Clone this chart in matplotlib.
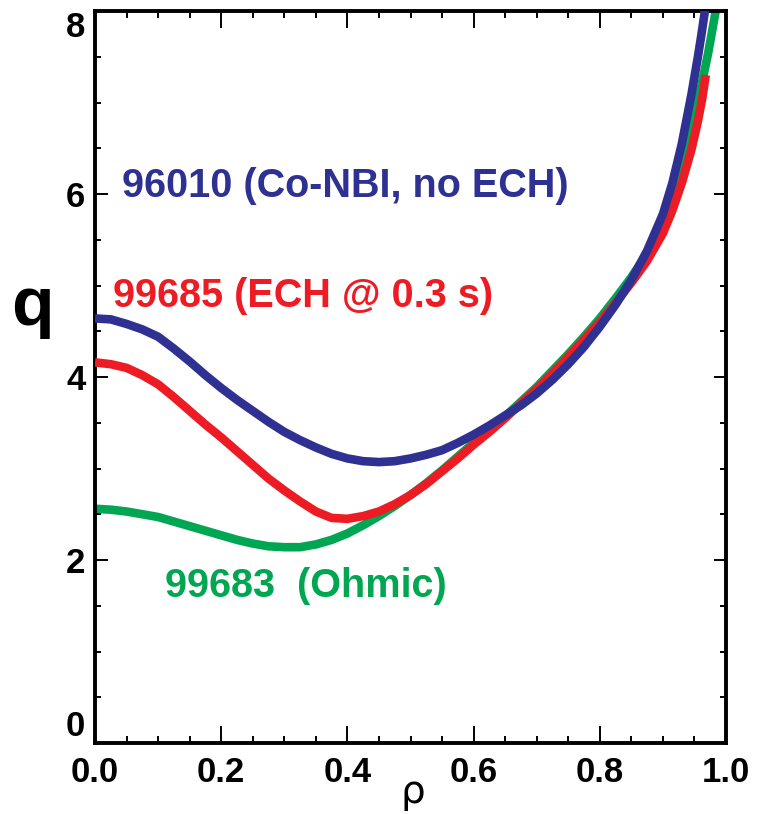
import matplotlib
matplotlib.use('Agg')
import matplotlib.pyplot as plt
from matplotlib.ticker import MultipleLocator

# q profiles
rho_96010 = [0, 0.025, 0.05, 0.075, 0.1, 0.125, 0.15, 0.175, 0.2, 0.225, 0.25, 0.275,
             0.3, 0.325, 0.35, 0.375, 0.4, 0.425, 0.45, 0.475, 0.5, 0.525, 0.55, 0.575,
             0.6, 0.625, 0.65, 0.675, 0.7, 0.725, 0.75, 0.775, 0.8, 0.825, 0.85, 0.875,
             0.9, 0.915, 0.93, 0.945, 0.955, 0.961, 0.967]
q_96010 = [4.64, 4.63, 4.58, 4.52, 4.44, 4.31, 4.17, 4.02, 3.88, 3.75, 3.63, 3.51,
           3.40, 3.31, 3.23, 3.16, 3.11, 3.08, 3.07, 3.08, 3.11, 3.15, 3.20, 3.28,
           3.37, 3.47, 3.58, 3.69, 3.82, 3.97, 4.14, 4.33, 4.55, 4.79, 5.06, 5.38,
           5.78, 6.12, 6.55, 7.08, 7.48, 7.74, 8.02]

rho_99685 = [0, 0.025, 0.05, 0.075, 0.1, 0.125, 0.15, 0.175, 0.2, 0.225, 0.25, 0.275,
             0.3, 0.325, 0.35, 0.375, 0.4, 0.425, 0.45, 0.475, 0.5, 0.525, 0.55, 0.575,
             0.6, 0.625, 0.65, 0.675, 0.7, 0.725, 0.75, 0.775, 0.8, 0.825, 0.85, 0.875,
             0.9, 0.915, 0.93, 0.945, 0.955, 0.962, 0.968]
q_99685 = [4.16, 4.14, 4.10, 4.02, 3.92, 3.78, 3.63, 3.48, 3.34, 3.19, 3.04, 2.89,
           2.76, 2.64, 2.53, 2.46, 2.45, 2.48, 2.53, 2.61, 2.71, 2.83, 2.97, 3.11,
           3.26, 3.40, 3.55, 3.71, 3.87, 4.04, 4.22, 4.41, 4.60, 4.81, 5.03, 5.27,
           5.57, 5.82, 6.12, 6.48, 6.78, 7.03, 7.30]

rho_99683 = [0, 0.025, 0.05, 0.075, 0.1, 0.125, 0.15, 0.175, 0.2, 0.225, 0.25, 0.275,
             0.3, 0.325, 0.35, 0.375, 0.4, 0.425, 0.45, 0.475, 0.5, 0.525, 0.55, 0.575,
             0.6, 0.625, 0.65, 0.675, 0.7, 0.725, 0.75, 0.775, 0.8, 0.825, 0.85, 0.875,
             0.9, 0.915, 0.93, 0.945, 0.96, 0.972, 0.985]
q_99683 = [2.56, 2.55, 2.53, 2.50, 2.47, 2.42, 2.37, 2.32, 2.27, 2.22, 2.18, 2.15,
           2.14, 2.14, 2.17, 2.22, 2.29, 2.38, 2.48, 2.59, 2.71, 2.84, 2.98, 3.13,
           3.28, 3.42, 3.57, 3.73, 3.89, 4.07, 4.25, 4.44, 4.64, 4.86, 5.09, 5.35,
           5.66, 5.93, 6.33, 6.75, 7.15, 7.55, 8.05]

xticks = [0.0, 0.2, 0.4, 0.6, 0.8, 1.0]
xlabels = ['0.0', '0.2', '0.4', '0.6', '0.8', '1.0']
yticks = [0, 2, 4, 6, 8]

blue, red, green = '#2e3192', '#ed1c24', '#00a651'
font = ['Liberation Sans', 'DejaVu Sans']

fig = plt.figure(figsize=(7.57, 8.14), dpi=100)
ax = fig.add_axes([95/757, 71/814, 631/757, 732/814])

ax.plot(rho_99683, q_99683, color=green, lw=6.2, solid_capstyle='butt', zorder=2)
ax.plot(rho_99685, q_99685, color=red, lw=6.2, solid_capstyle='butt', zorder=3)
ax.plot(rho_96010, q_96010, color=blue, lw=6.2, solid_capstyle='butt', zorder=4)

ax.set_xlim(0, 1.0)
ax.set_ylim(0, 8)
ax.set_xticks(xticks)
ax.set_xticklabels(xlabels)
ax.set_yticks(yticks)
ax.xaxis.set_minor_locator(MultipleLocator(0.05))
ax.yaxis.set_minor_locator(MultipleLocator(0.5))

for s in ax.spines.values():
    s.set_linewidth(2.8)
ax.tick_params(which='both', direction='in', top=True, right=True, width=1.4)
ax.tick_params(axis='x', which='major', length=12, pad=9)
ax.tick_params(axis='x', which='minor', length=5)
ax.tick_params(axis='y', which='major', length=9, pad=7)
ax.tick_params(axis='y', which='minor', length=4)

for lab in ax.get_xticklabels() + ax.get_yticklabels():
    lab.set_family(font)
    lab.set_fontweight('bold')
    lab.set_fontsize(25)
ylabs = ax.get_yticklabels()
ylabs[0].set_va('bottom')
ylabs[-1].set_va('top')

ax.text(-0.1, 0.571, 'q', transform=ax.transAxes, ha='center', va='baseline',
        fontsize=50, fontweight='bold', family=font)
ax.text(0.504, -0.082, 'ρ', transform=ax.transAxes, ha='center', va='baseline',
        fontsize=28, family='DejaVu Sans')

ax.text(0.043, 0.746, '96010 (Co-NBI, no ECH)', transform=ax.transAxes, color=blue,
        fontsize=28.5, fontweight='bold', family=font, va='baseline')
ax.text(0.0285, 0.596, '99685 (ECH @ 0.3 s)', transform=ax.transAxes, color=red,
        fontsize=28.5, fontweight='bold', family=font, va='baseline')
ax.text(0.111, 0.199, '99683  (Ohmic)', transform=ax.transAxes, color=green,
        fontsize=28.5, fontweight='bold', family=font, va='baseline')

fig.savefig('out.png', dpi=100)
